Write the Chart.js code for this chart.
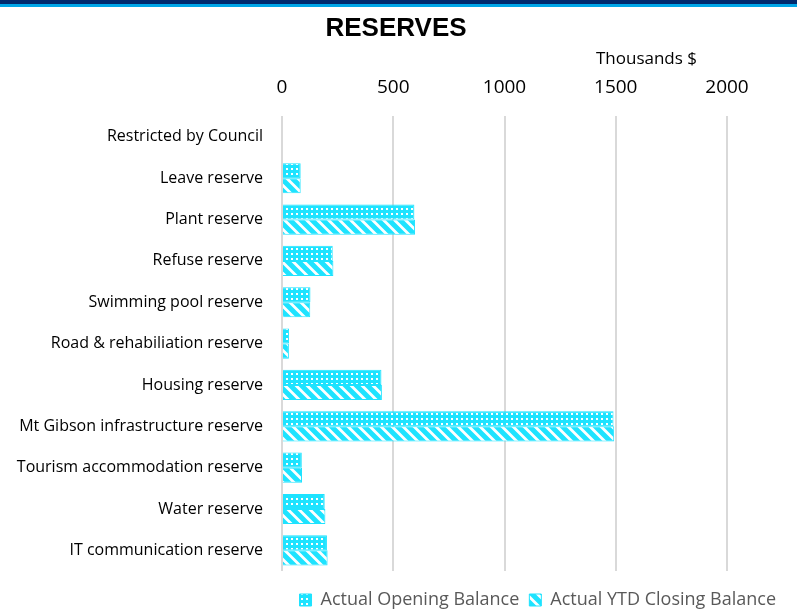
<!DOCTYPE html>
<html>
<head>
<meta charset="utf-8">
<script src="https://cdn.jsdelivr.net/npm/chart.js@4.4.1/dist/chart.umd.min.js"></script>
<style>
  body { margin: 0; background: #fff; }
  .band1 { height: 4px; background: #002a6e; }
  .band2 { height: 3px; background: #00a6e8; }
  .wrap { width: 797px; height: 602px; position: relative; }
</style>
</head>
<body>
<div class="band1"></div>
<div class="band2"></div>
<div class="wrap"><canvas id="myChart"></canvas></div>
<script>
const categories = [
  'Restricted by Council',
  'Leave reserve',
  'Plant reserve',
  'Refuse reserve',
  'Swimming pool reserve',
  'Road & rehabiliation reserve',
  'Housing reserve',
  'Mt Gibson infrastructure reserve',
  'Tourism accommodation reserve',
  'Water reserve',
  'IT communication reserve'
];
const openingBalance = [0, 84, 595, 228, 128, 32, 447, 1490, 89, 192, 202];
const closingBalance = [0, 84, 598, 231, 127, 31, 449, 1493, 90, 195, 205];
const xTicks = [0, 500, 1000, 1500, 2000];

const CYAN = '#1ee3ff';

// fill patterns like the excel ones
function dotPattern() {
  const c = document.createElement('canvas');
  c.width = 5; c.height = 5;
  const g = c.getContext('2d');
  g.fillStyle = CYAN;
  g.fillRect(0, 0, 5, 5);
  g.fillStyle = '#ffffff';
  g.fillRect(1, 1, 2, 2);
  return g.createPattern(c, 'repeat');
}

function stripePattern() {
  const c = document.createElement('canvas');
  c.width = 11; c.height = 11;
  const g = c.getContext('2d');
  g.fillStyle = '#ffffff';
  g.fillRect(0, 0, 11, 11);
  g.strokeStyle = CYAN;
  g.lineWidth = 5;
  g.beginPath();
  g.moveTo(-11, 0); g.lineTo(11, 22);
  g.moveTo(-11, -11); g.lineTo(22, 22);
  g.moveTo(0, -11); g.lineTo(22, 11);
  g.stroke();
  return g.createPattern(c, 'repeat');
}

const unitsLabel = {
  id: 'unitsLabel',
  afterDraw(chart) {
    const ctx = chart.ctx;
    ctx.save();
    ctx.font = '17px "Open Sans"';
    ctx.fillStyle = '#000';
    ctx.textAlign = 'right';
    ctx.textBaseline = 'middle';
    ctx.fillText('Thousands $', chart.chartArea.right - 30, 52);
    ctx.restore();
  }
};

const ctx = document.getElementById('myChart');

new Chart(ctx, {
  type: 'bar',
  data: {
    labels: categories,
    datasets: [{
      label: 'Actual Opening Balance',
      data: openingBalance,
      backgroundColor: dotPattern(),
      borderColor: CYAN,
      borderWidth: 1,
      xAxisID: 'x',
      yAxisID: 'y'
    }, {
      label: 'Actual YTD Closing Balance',
      data: closingBalance,
      backgroundColor: stripePattern(),
      borderColor: CYAN,
      borderWidth: 1,
      xAxisID: 'x',
      yAxisID: 'y'
    }]
  },
  options: {
    indexAxis: 'y',
    responsive: true,
    maintainAspectRatio: false,
    animation: false,
    categoryPercentage: 0.73,
    barPercentage: 1.0,
    layout: { padding: { left: 6, right: 11, top: 0, bottom: -10 } },
    plugins: {
      title: {
        display: true,
        text: 'RESERVES',
        color: '#000',
        font: { family: '"Liberation Sans", Arial', size: 26, weight: 'bold' },
        padding: { top: 6, bottom: 0 }
      },
      legend: {
        position: 'bottom',
        align: 'end',
        labels: {
          boxWidth: 12,
          boxHeight: 12,
          padding: 10,
          color: '#595959',
          font: { family: '"Open Sans"', size: 18 }
        }
      },
      tooltip: { enabled: false }
    },
    scales: {
      x: {
        type: 'linear',
        position: 'top',
        min: 0,
        max: 2000,
        afterBuildTicks: (s) => { s.ticks = xTicks.map(v => ({ value: v })); },
        afterFit: (s) => { s.height = 72; },
        grid: { color: '#d9d9d9', lineWidth: 2, drawTicks: false },
        border: { display: false },
        ticks: {
          padding: 17,
          color: '#000',
          font: { family: '"Open Sans"', size: 19 },
          callback: (v) => String(v)
        }
      },
      x2: {
        type: 'linear',
        position: 'bottom',
        display: true,
        afterFit: (s) => { s.height = 10; },
        grid: { display: false },
        border: { display: false },
        ticks: { display: false }
      },
      y: {
        position: 'left',
        afterFit: (s) => { s.width = 276; },
        grid: { display: false, drawTicks: false },
        border: { display: false },
        ticks: {
          padding: 19,
          color: '#000',
          font: { family: '"Open Sans"', size: 16 }
        }
      },
      y2: {
        type: 'category',
        position: 'right',
        display: true,
        afterFit: (s) => { s.width = 59; },
        grid: { display: false },
        border: { display: false },
        ticks: { display: false }
      }
    }
  },
  plugins: [unitsLabel]
});
</script>
</body>
</html>
